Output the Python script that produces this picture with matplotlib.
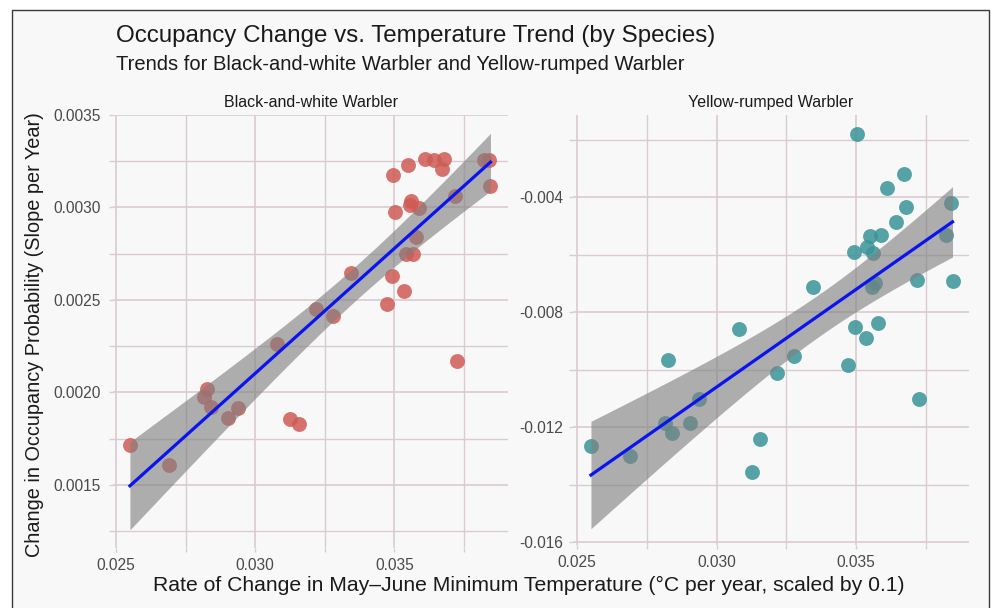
import matplotlib
matplotlib.use("Agg")
import matplotlib.pyplot as plt
import matplotlib.patches as mpatches
import numpy as np

# ---- data --------------------------------------------------------------------
temp_trend = [0.02550, 0.02690, 0.02815, 0.02826, 0.02840, 0.02903, 0.02938,
              0.03080, 0.03126, 0.03156, 0.03217, 0.03278, 0.03345, 0.03472,
              0.03493, 0.03496, 0.03502, 0.03535, 0.03540, 0.03550, 0.03555,
              0.03560, 0.03568, 0.03578, 0.03588, 0.03610, 0.03642, 0.03670,
              0.03678, 0.03718, 0.03726, 0.03820, 0.03840, 0.03845]

bw_slope = [0.001717, 0.001609, 0.001973, 0.002016, 0.001924, 0.001864, 0.001918,
            0.002261, 0.001859, 0.001831, 0.002451, 0.002413, 0.002647, 0.002478,
            0.002630, 0.003174, 0.002978, 0.002549, 0.002750, 0.003228, 0.003011,
            0.003033, 0.002750, 0.002842, 0.002995, 0.003261, 0.003255, 0.003207,
            0.003261, 0.003060, 0.002168, 0.003255, 0.003255, 0.003114]

yr_slope = [-0.01266, -0.01301, -0.01186, -0.00967, -0.01221, -0.01186, -0.01103,
            -0.00859, -0.01357, -0.01242, -0.01012, -0.00953, -0.00713, -0.00984,
            -0.00591, -0.00852, -0.00181, -0.00890, -0.00574, -0.00536, -0.00713,
            -0.00595, -0.00699, -0.00838, -0.00532, -0.00369, -0.00487, -0.00320,
            -0.00435, -0.00689, -0.01103, -0.00532, -0.00421, -0.00692]

species = ["Black-and-white Warbler", "Yellow-rumped Warbler"]

x_ticks = [0.025, 0.030, 0.035]
x_ticklabels = ["0.025", "0.030", "0.035"]
x_minor = [0.0275, 0.0325, 0.0375]

bw_ticks = [0.0015, 0.0020, 0.0025, 0.0030, 0.0035]
bw_ticklabels = ["0.0015", "0.0020", "0.0025", "0.0030", "0.0035"]
bw_minor = [0.00125, 0.00175, 0.00225, 0.00275, 0.00325]

yr_ticks = [-0.016, -0.012, -0.008, -0.004]
yr_ticklabels = ["-0.016", "-0.012", "-0.008", "-0.004"]
yr_minor = [-0.014, -0.010, -0.006, -0.002]

T_975 = 2.037  # t quantile, df = 32

plt.rcParams["font.family"] = ["Liberation Sans", "DejaVu Sans"]

GRID = "#dacbd1"
TICK_TXT = "#4a4a4a"
BG = "#f8f8f8"


def lm_band(x, y):
    x = np.asarray(x); y = np.asarray(y)
    n = len(x)
    b1, b0 = np.polyfit(x, y, 1)
    resid = y - (b0 + b1 * x)
    s = np.sqrt((resid ** 2).sum() / (n - 2))
    sxx = ((x - x.mean()) ** 2).sum()
    xs = np.linspace(x.min(), x.max(), 100)
    yh = b0 + b1 * xs
    se = s * np.sqrt(1.0 / n + (xs - x.mean()) ** 2 / sxx)
    return xs, yh, yh - T_975 * se, yh + T_975 * se


def style_axes(ax, yt, ytl, ymin, ypad):
    ax.set_facecolor("none")
    for sp in ax.spines.values():
        sp.set_visible(False)
    ax.set_xticks(x_ticks)
    ax.set_xticklabels(x_ticklabels)
    ax.set_xticks(x_minor, minor=True)
    ax.set_yticks(yt)
    ax.set_yticklabels(ytl)
    ax.set_yticks(ymin, minor=True)
    ax.grid(True, which="major", color=GRID, lw=1.2, zorder=0)
    ax.grid(True, which="minor", color=GRID, lw=1.0, zorder=0)
    ax.set_axisbelow(True)
    ax.tick_params(which="both", length=3, color=GRID, width=1.0,
                   labelsize=11.2, labelcolor=TICK_TXT)
    ax.tick_params(axis="y", pad=ypad)
    ax.tick_params(axis="x", pad=4)


fig = plt.figure(figsize=(9.99, 6.08), dpi=100)
fig.patch.set_facecolor("white")
fig.patches.append(mpatches.Rectangle((12 / 999, -0.01), (989 - 12) / 999,
                                      1 - 10 / 608 + 0.01,
                                      transform=fig.transFigure,
                                      facecolor=BG, edgecolor="#3a3a3a",
                                      lw=1.0, zorder=-10))

W, H = 999, 608
ax1 = fig.add_axes([113 / W, 1 - 548 / H, (508 - 113) / W, (548 - 115) / H])
ax2 = fig.add_axes([573 / W, 1 - 545 / H, (969 - 573) / W, (545 - 115) / H])

panels = [
    (ax1, bw_slope, "#cf5b55", bw_ticks, bw_ticklabels, bw_minor,
     (0.024892, 0.03908), (0.001159, 0.0035), 6),
    (ax2, yr_slope, "#3a9499", yr_ticks, yr_ticklabels, yr_minor,
     (0.024857, 0.03904), (-0.0161, -0.001148), 4),
]

for ax, ys, col, yt, ytl, ymin, xl, yl, ypad in panels:
    style_axes(ax, yt, ytl, ymin, ypad)
    ax.scatter(temp_trend, ys, s=115, color=col, alpha=0.85, linewidths=0,
               zorder=2)
    xs, yh, lo, hi = lm_band(temp_trend, ys)
    ax.fill_between(xs, lo, hi, color="#7f7f7f", alpha=0.62, linewidth=0,
                    zorder=3)
    ax.plot(xs, yh, color="#0a14f0", lw=2.3, zorder=4)
    ax.set_xlim(*xl)
    ax.set_ylim(*yl)

ax1.set_title(species[0], fontsize=11.5, color="#1a1a1a", pad=6)
ax2.set_title(species[1], fontsize=11.5, color="#1a1a1a", pad=6)

fig.text(116 / W, 1 - 36 / H, "Occupancy Change vs. Temperature Trend (by Species)",
         fontsize=17.4, color="#1a1a1a", va="center", ha="left")
fig.text(116 / W, 1 - 64 / H,
         "Trends for Black-and-white Warbler and Yellow-rumped Warbler",
         fontsize=14.5, color="#1a1a1a", va="center", ha="left")
fig.text(35 / W, 1 - 335 / H, "Change in Occupancy Probability (Slope per Year)",
         fontsize=14.3, color="#1a1a1a", rotation=90, va="center", ha="center")
fig.text(529 / W, 1 - 585 / H,
         "Rate of Change in May\u2013June Minimum Temperature (\u00b0C per year, scaled by 0.1)",
         fontsize=15.2, color="#1a1a1a", va="center", ha="center")

fig.savefig("out.png", dpi=100, facecolor=fig.get_facecolor())
